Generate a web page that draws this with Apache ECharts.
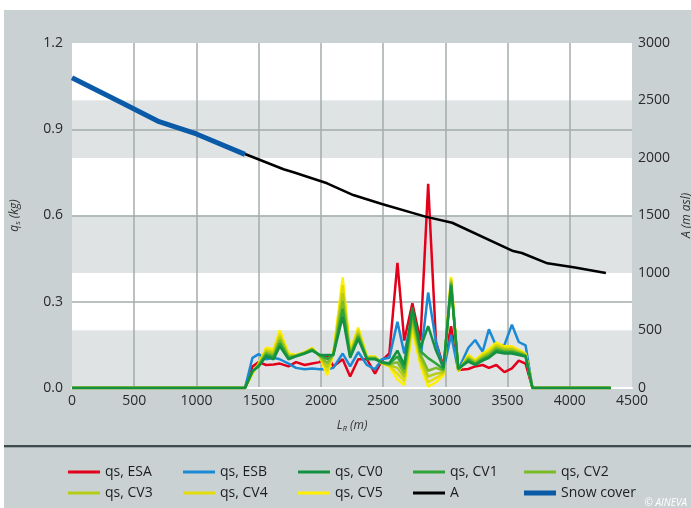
<!DOCTYPE html>
<html><head><meta charset="utf-8">
<script src="https://cdn.jsdelivr.net/npm/echarts@6/dist/echarts.min.js"></script>
<style>html,body{margin:0;padding:0;background:#fff}#c{width:691px;height:508px}</style>
</head><body><div id="c"></div>
<script>
// Distance along path (m) shared by the qs series
const X = [0, 1390, 1450, 1500, 1560, 1620, 1670, 1740, 1800, 1870, 1930, 1990, 2050, 2100, 2175, 2235, 2300, 2370, 2435, 2490, 2550, 2615, 2670, 2735, 2800, 2862, 2925, 2985, 3046, 3104, 3185, 3240, 3300, 3350, 3410, 3475, 3535, 3590, 3645, 3700, 4330];
const ESA = [0, 0, 0.075, 0.09, 0.08, 0.082, 0.085, 0.075, 0.09, 0.08, 0.085, 0.09, 0.115, 0.075, 0.1, 0.04, 0.1, 0.1, 0.05, 0.095, 0.12, 0.435, 0.165, 0.295, 0.165, 0.71, 0.16, 0.075, 0.215, 0.063, 0.066, 0.075, 0.08, 0.07, 0.08, 0.055, 0.068, 0.095, 0.085, 0, 0];
const ESB = [0, 0, 0.105, 0.118, 0.1, 0.105, 0.1, 0.085, 0.07, 0.065, 0.068, 0.065, 0.065, 0.07, 0.12, 0.075, 0.125, 0.08, 0.065, 0.1, 0.105, 0.23, 0.12, 0.245, 0.1, 0.332, 0.16, 0.063, 0.184, 0.063, 0.14, 0.167, 0.126, 0.204, 0.144, 0.15, 0.22, 0.16, 0.148, 0, 0];
const CV0 = [0, 0, 0.06, 0.075, 0.11, 0.1, 0.145, 0.1, 0.11, 0.12, 0.13, 0.115, 0.115, 0.115, 0.248, 0.105, 0.17, 0.1, 0.1, 0.09, 0.086, 0.13, 0.08, 0.28, 0.14, 0.215, 0.13, 0.07, 0.355, 0.068, 0.092, 0.08, 0.095, 0.105, 0.125, 0.12, 0.12, 0.115, 0.109, 0, 0];
const CV1 = [0, 0, 0.058, 0.077, 0.116, 0.107, 0.156, 0.104, 0.111, 0.121, 0.132, 0.114, 0.101, 0.116, 0.275, 0.11, 0.178, 0.102, 0.102, 0.089, 0.084, 0.11, 0.066, 0.264, 0.128, 0.104, 0.085, 0.065, 0.361, 0.066, 0.097, 0.083, 0.1, 0.11, 0.132, 0.125, 0.125, 0.119, 0.111, 0, 0];
const CV2 = [0, 0, 0.056, 0.079, 0.122, 0.114, 0.167, 0.108, 0.112, 0.122, 0.134, 0.113, 0.087, 0.117, 0.303, 0.115, 0.186, 0.104, 0.104, 0.088, 0.082, 0.09, 0.052, 0.248, 0.116, 0.06, 0.07, 0.06, 0.368, 0.064, 0.102, 0.087, 0.105, 0.116, 0.138, 0.13, 0.13, 0.122, 0.113, 0, 0];
const CV3 = [0, 0, 0.054, 0.081, 0.128, 0.121, 0.178, 0.112, 0.113, 0.123, 0.136, 0.112, 0.073, 0.118, 0.33, 0.12, 0.194, 0.106, 0.106, 0.087, 0.079, 0.07, 0.038, 0.232, 0.104, 0.04, 0.05, 0.055, 0.374, 0.061, 0.106, 0.09, 0.11, 0.122, 0.145, 0.135, 0.135, 0.126, 0.116, 0, 0];
const CV4 = [0, 0, 0.052, 0.083, 0.134, 0.128, 0.189, 0.116, 0.114, 0.124, 0.138, 0.111, 0.059, 0.119, 0.358, 0.125, 0.202, 0.108, 0.108, 0.086, 0.077, 0.05, 0.024, 0.216, 0.092, 0.02, 0.035, 0.05, 0.381, 0.059, 0.111, 0.094, 0.115, 0.128, 0.151, 0.14, 0.14, 0.129, 0.118, 0, 0];
const CV5 = [0, 0, 0.05, 0.085, 0.14, 0.135, 0.2, 0.12, 0.115, 0.125, 0.14, 0.11, 0.045, 0.12, 0.385, 0.13, 0.21, 0.11, 0.11, 0.085, 0.075, 0.03, 0.01, 0.2, 0.08, 0.005, 0.02, 0.045, 0.387, 0.057, 0.116, 0.097, 0.12, 0.135, 0.158, 0.145, 0.145, 0.133, 0.12, 0, 0];
// Altitude (m asl)
const XA = [1390, 1700, 1780, 2050, 2260, 2490, 2840, 3055, 3545, 3615, 3820, 4030, 4290];
const A = [2035, 1902, 1876, 1780, 1678, 1600, 1490, 1437, 1191, 1174, 1084, 1050, 1000];
// Snow cover (m asl)
const XS = [0, 400, 700, 1000, 1390];
const SNOW = [2698, 2481, 2316, 2209, 2032];
const xTicks = [0, 500, 1000, 1500, 2000, 2500, 3000, 3500, 4000, 4500];
const leftTicks = [0, 0.3, 0.6, 0.9, 1.2];
const rightTicks = [0, 500, 1000, 1500, 2000, 2500, 3000];

const names = ['qs, ESA','qs, ESB','qs, CV0','qs, CV1','qs, CV2','qs, CV3','qs, CV4','qs, CV5','A','Snow cover'];
const colors = {'qs, ESA':'#e3001b','qs, ESB':'#1a8ad4','qs, CV0':'#149140','qs, CV1':'#2ea43a','qs, CV2':'#7cbb28','qs, CV3':'#b5cd14','qs, CV4':'#e2dc0c','qs, CV5':'#fff000','A':'#000000','Snow cover':'#0a5aa8'};
const qsData = {'qs, ESA':ESA,'qs, ESB':ESB,'qs, CV0':CV0,'qs, CV1':CV1,'qs, CV2':CV2,'qs, CV3':CV3,'qs, CV4':CV4,'qs, CV5':CV5};
const pair = (xs, ys) => xs.map((x, i) => [x, ys[i]]);

const font = '"Open Sans", "Noto Sans", sans-serif';
const drawOrder = ['qs, ESA','qs, ESB','qs, CV5','qs, CV4','qs, CV3','qs, CV2','qs, CV1','qs, CV0'];
const series = drawOrder.map(n => ({
  name: n, type: 'line', data: pair(X, qsData[n]), showSymbol: false, symbol: 'none',
  lineStyle: {width: 2.5, color: colors[n]}, itemStyle: {color: colors[n]}, z: 2
}));
series.push({name: 'A', type: 'line', yAxisIndex: 1, data: pair(XA, A), showSymbol: false, symbol: 'none',
  lineStyle: {width: 2.5, color: '#000'}, itemStyle: {color: '#000'}, z: 3});
series.push({name: 'Snow cover', type: 'line', yAxisIndex: 1, data: pair(XS, SNOW), showSymbol: false, symbol: 'none',
  lineStyle: {width: 5, color: colors['Snow cover']}, itemStyle: {color: colors['Snow cover']}, z: 4});

const colX = [68, 183, 298, 413, 524];
const rowY = [465, 486];
const legends = names.map((n, i) => ({
  data: [n], left: colX[i % 5], top: rowY[Math.floor(i / 5)], padding: 0,
  icon: 'rect', itemWidth: 32, itemHeight: n === 'Snow cover' ? 5 : 3, itemGap: 8,
  textStyle: {fontFamily: font, fontSize: 14, color: '#1e1e1e'}, selectedMode: false
}));

const chart = echarts.init(document.getElementById('c'), null, {renderer: 'canvas'});
chart.setOption({
  animation: false,
  backgroundColor: '#ffffff',
  textStyle: {fontFamily: font},
  graphic: [
    {type: 'rect', z: -100, shape: {x: 4, y: 10, width: 687, height: 436}, style: {fill: '#c9d1d2'}},
    {type: 'rect', z: -100, shape: {x: 4, y: 448, width: 687, height: 60}, style: {fill: '#c9d1d2'}},
    {type: 'rect', z: -100, shape: {x: 4, y: 445, width: 687, height: 2.5}, style: {fill: '#3d4d4f'}},
    {type: 'text', z: 10, right: 4, bottom: 0, style: {text: '© AINEVA', fill: '#ffffff', fontSize: 10, fontStyle: 'italic', fontFamily: font}}
  ],
  legend: legends,
  grid: {left: 72, right: 59, top: 43, bottom: 120, containLabel: false, outerBoundsMode: 'none'},
  xAxis: {
    type: 'value', min: 0, max: 4500, interval: 500, z: 2,
    name: '{i|L}{s|R}{i| (m)}', nameLocation: 'middle', nameGap: 31,
    nameTextStyle: {rich: {i: {fontStyle: 'italic', fontSize: 12, color: '#333', fontFamily: font}, s: {fontStyle: 'italic', fontSize: 8, color: '#333', verticalAlign: 'bottom', padding: [6, 0, 0, 0], fontFamily: font}}},
    axisLine: {show: true, lineStyle: {color: '#ffffff', width: 2}},
    axisTick: {show: false},
    axisLabel: {fontSize: 14, color: '#2a2a2a', margin: 6, formatter: v => xTicks.includes(v) ? String(v) : ''},
    splitLine: {show: true, showMinLine: false, showMaxLine: false, lineStyle: {color: '#a3adab', width: 1.5}}
  },
  yAxis: [
    {
      type: 'value', min: 0, max: 1.2, interval: 0.3, position: 'left', z: 2,
      name: '{i|q}{s|s}{i| (kg)}', nameLocation: 'middle', nameGap: 50, nameRotate: 90,
      nameTextStyle: {rich: {i: {fontStyle: 'italic', fontSize: 12, color: '#333', fontFamily: font}, s: {fontStyle: 'italic', fontSize: 8, color: '#333', verticalAlign: 'bottom', padding: [6, 0, 0, 0], fontFamily: font}}},
      axisLine: {show: false}, axisTick: {show: false},
      axisLabel: {fontSize: 14, color: '#2a2a2a', margin: 9, formatter: v => leftTicks.some(t => Math.abs(t - v) < 1e-9) ? v.toFixed(1) : ''},
      splitLine: {show: true, showMinLine: false, showMaxLine: false, lineStyle: {color: '#a3adab', width: 1.5}}
    },
    {
      type: 'value', min: 0, max: 3000, interval: 500, position: 'right', z: 0,
      name: '{i|A (m asl)}', nameLocation: 'middle', nameGap: 42, nameRotate: 90,
      nameTextStyle: {rich: {i: {fontStyle: 'italic', fontSize: 12, color: '#333', fontFamily: font}}},
      axisLine: {show: false}, axisTick: {show: false},
      axisLabel: {fontSize: 14, color: '#2a2a2a', margin: 6, formatter: v => rightTicks.includes(v) ? String(v) : ''},
      splitLine: {show: false},
      splitArea: {show: true, areaStyle: {color: ['#dfe3e4', '#ffffff']}}
    }
  ],
  series: series
});
</script></body></html>
